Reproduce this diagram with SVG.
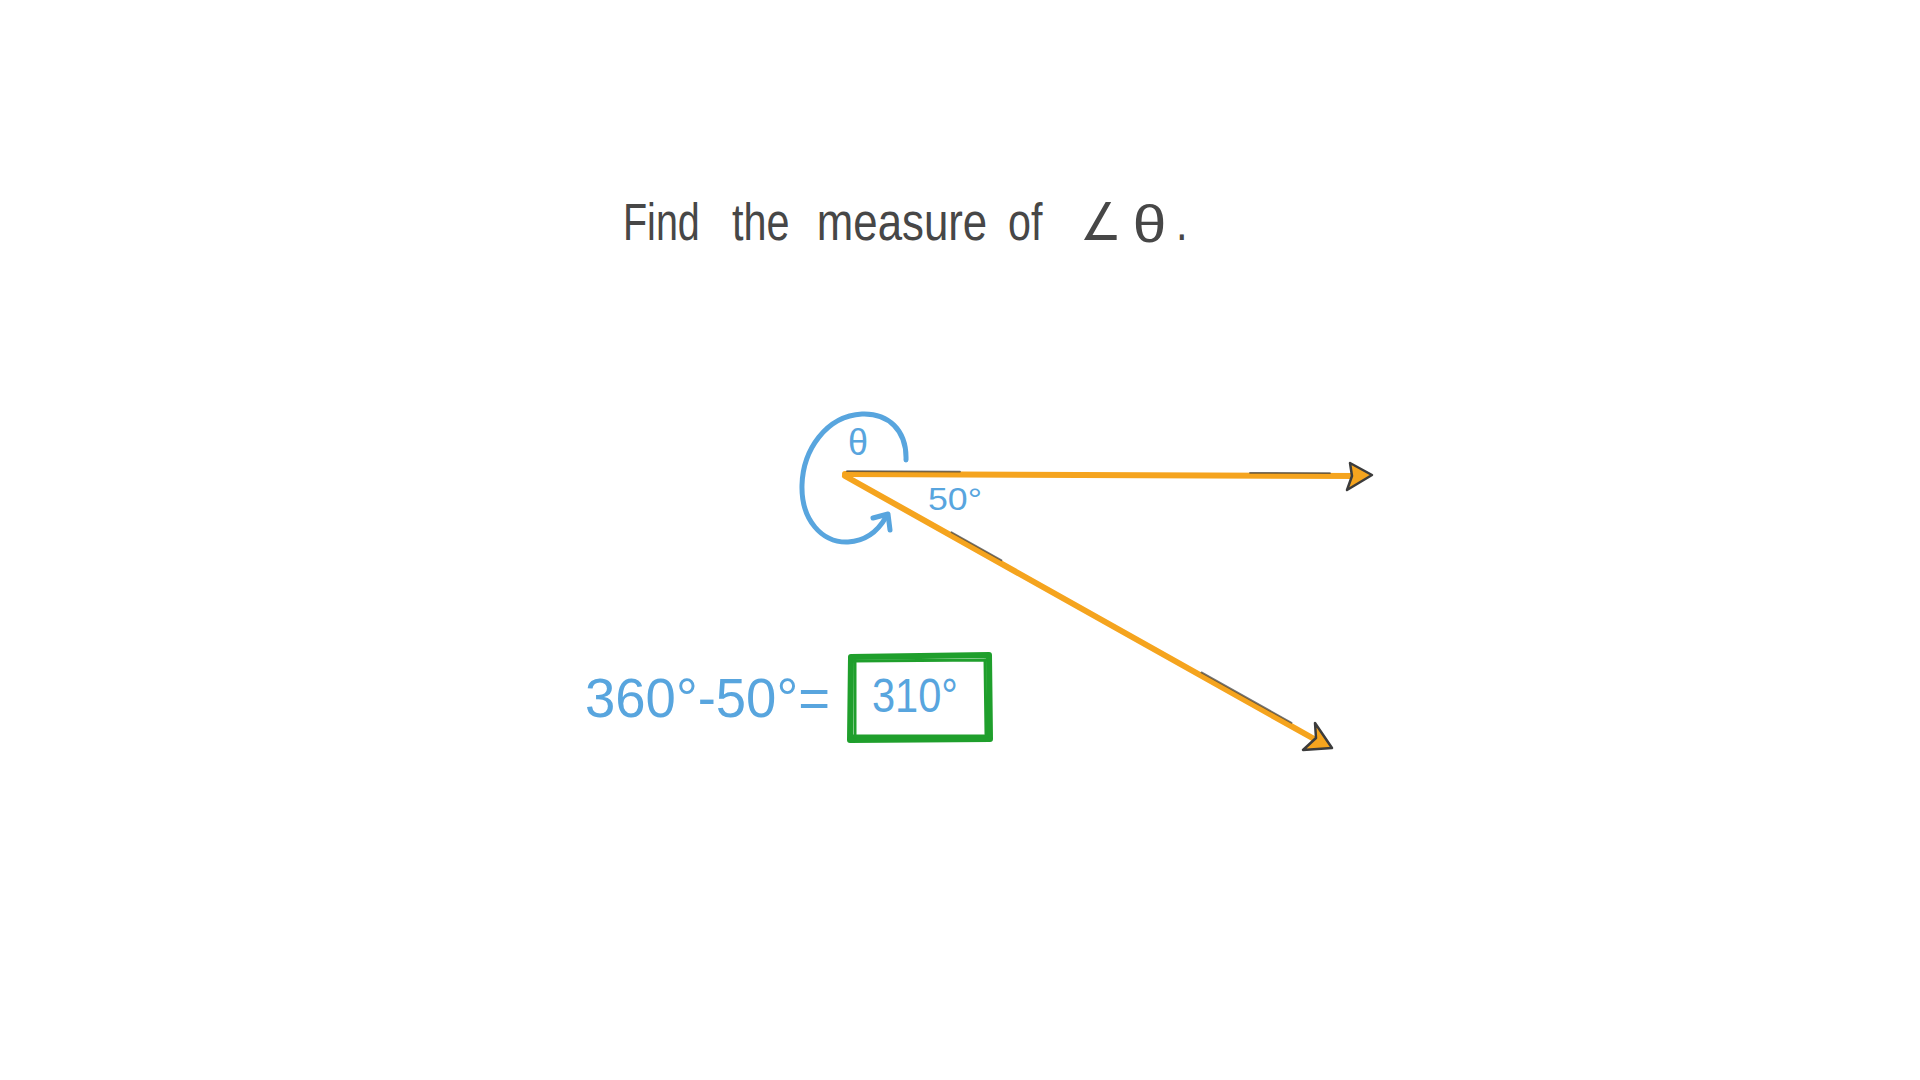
<svg xmlns="http://www.w3.org/2000/svg" width="1920" height="1080" viewBox="0 0 1920 1080">
  <style>
    .title { font-family: "Liberation Sans", Arial, sans-serif; font-size: 52px; fill: #474747; }
    .blue { font-family: "Liberation Sans", Arial, sans-serif; fill: #58a5de; }
    .ray { stroke: #f5a41e; stroke-width: 6; stroke-linecap: round; fill: none; }
    .shade { stroke: #3c3c3c; stroke-width: 1.8; stroke-linecap: round; fill: none; opacity: 0.7; }
    .head { fill: #f5a41e; stroke: #3c3c3c; stroke-width: 2.5; stroke-linejoin: round; }
    .arc { stroke: #58a5de; stroke-width: 5; stroke-linecap: round; stroke-linejoin: round; fill: none; }
    .box { stroke: #1f9f2c; stroke-width: 6; fill: none; stroke-linejoin: round; stroke-linecap: round; }
  </style>
  <rect width="1920" height="1080" fill="#ffffff"/>

  <g id="title" transform="scale(0.8,1)">
    <text class="title" x="778.75" y="240" textLength="96" lengthAdjust="spacingAndGlyphs">Find</text>
    <text class="title" x="915" y="240" textLength="72" lengthAdjust="spacingAndGlyphs">the</text>
    <text class="title" x="1021" y="240" textLength="213" lengthAdjust="spacingAndGlyphs">measure</text>
    <text class="title" x="1260" y="240" textLength="43" lengthAdjust="spacingAndGlyphs">of</text>
    <text class="title" x="1350" y="240" textLength="52" lengthAdjust="spacingAndGlyphs">∠</text>
    <text class="title" x="1416" y="242" textLength="42" lengthAdjust="spacingAndGlyphs">θ</text>
    <text class="title" x="1470" y="240">.</text>
  </g>

  <g id="connectors">
    <g id="ray-horizontal">
      <line class="ray" x1="845" y1="474" x2="1360" y2="476"/>
      <line class="shade" x1="847" y1="471.2" x2="960" y2="471.6"/>
      <line class="shade" x1="1250" y1="472.8" x2="1330" y2="473.1"/>
      <polygon class="head" points="1350,463 1372,475 1347,490 1352,476"/>
    </g>
    <g id="ray-lower">
      <line class="ray" x1="845" y1="476" x2="1316" y2="740"/>
      <line class="shade" x1="951.5" y1="532.3" x2="1001.5" y2="560.3"/>
      <line class="shade" x1="1201.5" y1="672.4" x2="1291.5" y2="722.8"/>
      <polygon class="head" points="1315,723 1332,748 1303,750 1316,738"/>
    </g>
  </g>

  <g id="angle-theta">
    <path class="arc" d="M906,460 C907,430 888,413 862,414 C826,416 803,450 802,485 C801,520 822,543 848,542 C865,541 878,531 886,517"/>
    <polyline class="arc" points="873,518 888,514 890,530"/>
    <text class="blue" x="858" y="455" font-size="36" text-anchor="middle">θ</text>
  </g>

  <g id="angle-50">
    <text class="blue" x="928" y="510" font-size="31" textLength="54" lengthAdjust="spacingAndGlyphs">50°</text>
  </g>

  <g id="equation">
    <text class="blue" x="585" y="717" font-size="55" textLength="245" lengthAdjust="spacingAndGlyphs">360°-50°=</text>
  </g>

  <g id="answer-box">
    <path class="box" d="M851,657 L989,655 L990,739 L850,740 Z"/>
    <path class="box" style="stroke-width:3" d="M853,661 L986,660 M985,660 L986,734 M852,736 L987,736 M855,660 L855,737"/>
    <text class="blue" x="872" y="712" font-size="48" textLength="86" lengthAdjust="spacingAndGlyphs">310°</text>
  </g>
</svg>
